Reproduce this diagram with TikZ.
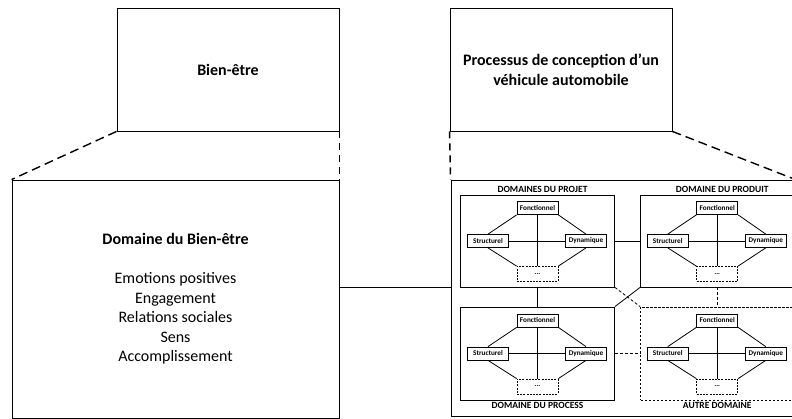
\documentclass[tikz,border=0pt]{standalone}
\usepackage{fontspec}
\setmainfont{Carlito}
\usetikzlibrary{calc}
\begin{document}
\begin{tikzpicture}[x=1pt,y=1pt,
  bigbox/.style={draw, line width=0.9pt, inner sep=0pt, align=center,
    font=\fontsize{16}{19.5}\selectfont},
  dombox/.style={draw, line width=0.8pt, minimum width=154pt, minimum height=92pt, inner sep=0pt},
  domdash/.style={dombox, dash pattern=on 2.5pt off 1.5pt},
  dtitle/.style={font=\fontsize{9.5}{10}\selectfont\bfseries, inner sep=1pt},
  sub/.style={draw, line width=0.75pt, minimum width=41pt, minimum height=13pt, inner sep=0pt,
    font=\fontsize{7.2}{8}\selectfont\bfseries},
  subdash/.style={sub, dash pattern=on 2pt off 1.2pt, minimum height=15pt},
  link/.style={line width=0.8pt},
  linkdash/.style={line width=0.8pt, dash pattern=on 3pt off 2pt},
  zoomdash/.style={line width=1.4pt, dash pattern=on 9pt off 5pt},
  zoomdashv/.style={line width=1.4pt, dash pattern=on 7pt off 5pt}
]
\useasboundingbox (0,0) rectangle (792,419);
\clip (0,0) rectangle (792,419);

\newcommand{\domainblock}[3]{%
  \node[sub] (#1F) at ($(#2,#3)+(0,33)$) {Fonctionnel};
  \node[sub] (#1S) at ($(#2,#3)+(-49.5,0)$) {Structurel};
  \node[sub] (#1D) at ($(#2,#3)+(48.5,0)$) {Dynamique};
  \node[subdash] (#1X) at ($(#2,#3)+(0,-33)$) {...};
  \draw[link] (#1F.south west) -- (#1S.north);
  \draw[link] (#1S.south) -- (#1X.north west);
  \draw[link] (#1X.north east) -- (#1D.south);
  \draw[link] (#1D.north) -- (#1F.south east);
  \draw[link] (#1F.south) -- (#1X.north);
  \draw[link] (#1S.east) -- (#1D.west);
}

% top boxes
\node[bigbox, minimum width=222pt, minimum height=123pt, font=\fontsize{16}{19.5}\selectfont\bfseries]
  (be) at (228,349.5) {Bien-être};
\node[bigbox, minimum width=222pt, minimum height=123pt, font=\fontsize{16}{19.5}\selectfont\bfseries]
  (pc) at (561,349.5) {Processus de conception d’un\\véhicule automobile};

% large boxes
\node[bigbox, minimum width=327pt, minimum height=238pt] (lb) at (175.5,120)
  {\textbf{Domaine du Bien-être}\\[19.5pt]Emotions positives\\Engagement\\Relations sociales\\Sens\\Accomplissement};
\node[draw, line width=0.9pt, minimum width=344pt, minimum height=236pt, inner sep=0pt] (rb) at (623,121) {};

% zoom lines
\draw[zoomdash] (be.south west) -- (lb.north west);
\draw[zoomdashv] (be.south east) -- (lb.north east);
\draw[zoomdashv] (pc.south west) -- (rb.north west);
\draw[zoomdash] (pc.south east) -- (rb.north east);

% link between large boxes
\draw[line width=0.9pt] ([yshift=12pt]lb.east) -- ([yshift=12pt]lb.east -| rb.west);

% domain boxes
\node[dombox] (pj) at (537.5,178) {};
\node[dombox, minimum width=153.5pt] (pd) at (717.25,178) {};
\node[dombox, minimum height=93pt] (ps) at (537.5,65.5) {};
\node[domdash, minimum width=153.5pt, minimum height=93pt] (ad) at (717.25,65.5) {};

\node[dtitle, anchor=south] (tpj) at ([xshift=5pt,yshift=1pt]pj.north) {DOMAINES DU PROJET};
\node[dtitle, anchor=south] (tpd) at ([xshift=5pt,yshift=1pt]pd.north) {DOMAINE DU PRODUIT};
\node[dtitle, anchor=north] (tps) at ([yshift=-1pt]ps.south) {DOMAINE DU PROCESS};
\node[dtitle, anchor=north] (tad) at ([yshift=-1pt]ad.south) {AUTRE DOMAINE};

\domainblock{pj}{537.5}{178}
\domainblock{pd}{717.25}{178}
\domainblock{ps}{537.5}{65.5}
\domainblock{ad}{717.25}{65.5}

% links between domains
\draw[link] (pj.east) -- (pd.west);
\draw[link] (pj.south) -- (ps.north);
\draw[link] (ps.north east) -- (pd.south west);
\draw[linkdash] (pj.south east) -- (ad.north west);
\draw[linkdash] (pd.south) -- (ad.north);
\draw[linkdash] (ps.east) -- (ad.west);
\end{tikzpicture}
\end{document}
